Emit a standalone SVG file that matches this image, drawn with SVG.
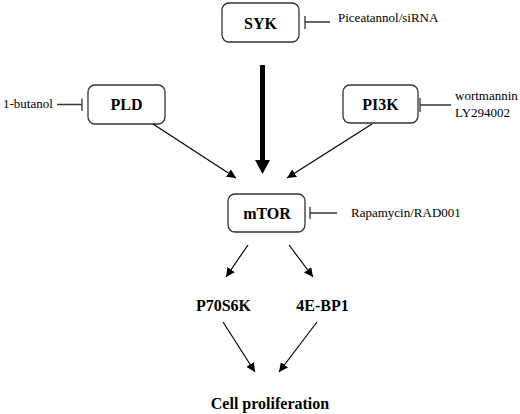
<svg xmlns="http://www.w3.org/2000/svg" width="520" height="414" viewBox="0 0 520 414">
<defs>
<style>
.box{fill:#fff;stroke:#333;stroke-width:1.3}
.lbl{font-family:"Liberation Serif","Times New Roman",serif;font-weight:bold;font-size:16px;fill:#000;text-anchor:middle}
.txt{font-family:"Liberation Serif","Times New Roman",serif;font-size:13px;fill:#000}
.ln{stroke:#000;stroke-width:1.2;fill:none}
.inh{stroke:#333;stroke-width:1.3;fill:none}
</style>
<marker id="ah" viewBox="0 0 10 10" refX="10" refY="5" markerWidth="9" markerHeight="9" markerUnits="userSpaceOnUse" orient="auto">
<path d="M0,0 L10,5 L0,10 z" fill="#000"/>
</marker>
</defs>
<rect width="520" height="414" fill="#fff"/>
<g id="syk">
<rect class="box" x="222" y="3" width="77" height="39" rx="7"/>
<text class="lbl" x="260.5" y="28.5">SYK</text>
</g>
<g id="pld">
<rect class="box" x="88" y="85" width="77" height="39" rx="7"/>
<text class="lbl" x="126.5" y="109.5">PLD</text>
</g>
<g id="pi3k">
<rect class="box" x="343" y="85" width="75" height="38" rx="7"/>
<text class="lbl" x="380.5" y="109.5">PI3K</text>
</g>
<g id="mtor">
<rect class="box" x="228" y="194" width="77" height="38" rx="7"/>
<text class="lbl" x="267" y="218.5">mTOR</text>
</g>
<g id="p70s6k">
<text class="lbl" x="223.5" y="310.5">P70S6K</text>
</g>
<g id="4ebp1">
<text class="lbl" x="322.5" y="310.5">4E-BP1</text>
</g>
<g id="cellprolif">
<text class="lbl" x="270" y="408.5">Cell proliferation</text>
</g>
<g id="inhibitors">
<text class="txt" x="338" y="22">Piceatannol/siRNA</text>
<text class="txt" x="3" y="108">1-butanol</text>
<text class="txt" x="455" y="99.5">wortmannin</text>
<text class="txt" x="455" y="117">LY294002</text>
<text class="txt" x="351" y="217">Rapamycin/RAD001</text>
</g>
<g id="connectors">
<path class="inh" d="M330,22 H305 M305,16 V29"/>
<path class="inh" d="M57,104.5 H82 M82,98.5 V111"/>
<path class="inh" d="M451,105 H420 M420,98 V112"/>
<path class="inh" d="M337,213 H310 M310,207 V219"/>
<rect x="260" y="65" width="5" height="96" fill="#000"/>
<path d="M255,160 L270,160 L262.5,174 z" fill="#000"/>
<line class="ln" x1="153" y1="124" x2="236" y2="178" marker-end="url(#ah)"/>
<line class="ln" x1="372" y1="124" x2="287" y2="178" marker-end="url(#ah)"/>
<line class="ln" x1="248" y1="245" x2="226" y2="277" marker-end="url(#ah)"/>
<line class="ln" x1="289" y1="245" x2="313" y2="277" marker-end="url(#ah)"/>
<line class="ln" x1="223" y1="322" x2="255" y2="372" marker-end="url(#ah)"/>
<line class="ln" x1="317" y1="322" x2="279" y2="372" marker-end="url(#ah)"/>
</g>
</svg>
